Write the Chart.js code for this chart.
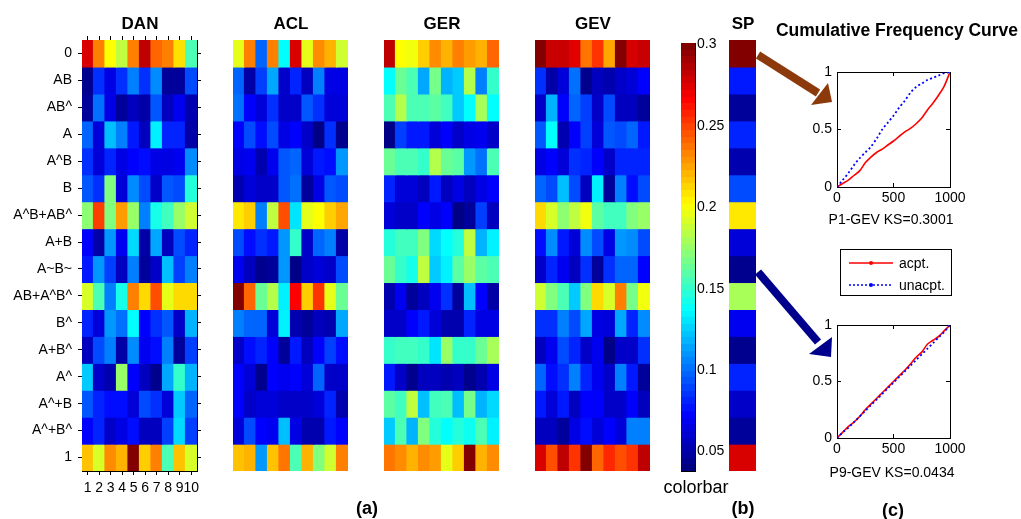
<!DOCTYPE html>
<html><head><meta charset="utf-8">
<script src="https://cdn.jsdelivr.net/npm/chart.js@4.4.1/dist/chart.umd.min.js"></script>
<style>
html,body{margin:0;padding:0;background:#fff;}
#wrap{position:relative;width:1021px;height:519px;overflow:hidden;font-family:'Liberation Sans',Arial,sans-serif;color:#000;background:#fff;}
#wrap canvas{position:absolute;left:0;top:0;}
.t{position:absolute;transform:translate(-50%,-50%);white-space:nowrap;line-height:1;}
.b{font-weight:bold;}
#legend{position:absolute;left:840px;top:249px;width:112px;height:47px;box-sizing:border-box;border:1px solid #000;background:#fff;}
#legend span{position:absolute;left:58px;font-size:14px;line-height:1;transform:translateY(-50%);}
</style></head><body>
<div id="wrap">
<canvas id="cDAN" width="1021" height="519"></canvas>
<canvas id="cACL" width="1021" height="519"></canvas>
<canvas id="cGER" width="1021" height="519"></canvas>
<canvas id="cGEV" width="1021" height="519"></canvas>
<canvas id="cBar" width="1021" height="519"></canvas>
<canvas id="cSP" width="1021" height="519"></canvas>
<canvas id="cL1" width="1021" height="519"></canvas>
<canvas id="cL2" width="1021" height="519"></canvas>
<svg width="1021" height="519" style="position:absolute;left:0;top:0;">
  <line x1="758" y1="55" x2="818" y2="93" stroke="#8c3a0c" stroke-width="8"/>
  <polygon points="832,102 811,105 828,83" fill="#8c3a0c"/>
  <line x1="758" y1="272" x2="818" y2="342" stroke="#00008c" stroke-width="8"/>
  <polygon points="831,357 809,354 832,337" fill="#00008c"/>
</svg>
<div class="t b" style="left:140px;top:23px;font-size:17px;">DAN</div>
<div class="t b" style="left:291px;top:23px;font-size:17px;">ACL</div>
<div class="t b" style="left:442px;top:23px;font-size:17px;">GER</div>
<div class="t b" style="left:593px;top:23px;font-size:17px;">GEV</div>
<div class="t b" style="left:743px;top:23px;font-size:17px;">SP</div>
<div class="t b" style="left:897px;top:31px;font-size:17.5px;">Cumulative Frequency Curve</div>
<div class="t" style="left:891px;top:219px;font-size:14px;">P1-GEV KS=0.3001</div>
<div class="t" style="left:892px;top:472px;font-size:14px;">P9-GEV KS=0.0434</div>
<div class="t" style="left:696px;top:487px;font-size:18px;">colorbar</div>
<div class="t b" style="left:367px;top:508px;font-size:18px;">(a)</div>
<div class="t b" style="left:743px;top:508px;font-size:18px;">(b)</div>
<div class="t b" style="left:893px;top:510px;font-size:18px;">(c)</div>
<div id="legend">
  <svg width="110" height="45" style="position:absolute;left:0;top:0;">
    <line x1="8" y1="13" x2="52" y2="13" stroke="#f00" stroke-width="1.5"/>
    <circle cx="30" cy="13" r="2" fill="#f00"/>
    <line x1="8" y1="35" x2="52" y2="35" stroke="#00f" stroke-width="1.5" stroke-dasharray="2,2"/>
    <circle cx="30" cy="35" r="2" fill="#00f"/>
  </svg>
  <span style="top:13px;">acpt.</span>
  <span style="top:35px;">unacpt.</span>
</div>
</div>
<script>
// ---------- data ----------
const rowNames = ['0','AB','AB^','A','A^B','B','A^B+AB^','A+B','A~B~','AB+A^B^','B^','A+B^','A^','A^+B','A^+B^','1'];
const colLabels = ['1','2','3','4','5','6','7','8','9','10'];

const danValues = [
[0.278,0.235,0.202,0.186,0.235,0.285,0.242,0.235,0.210,0.156],
[0.042,0.083,0.064,0.083,0.104,0.083,0.107,0.045,0.045,0.090],
[0.045,0.100,0.064,0.045,0.054,0.048,0.093,0.054,0.067,0.050],
[0.097,0.061,0.120,0.104,0.077,0.054,0.133,0.080,0.080,0.048],
[0.083,0.061,0.080,0.064,0.071,0.074,0.064,0.064,0.067,0.107],
[0.093,0.083,0.170,0.061,0.107,0.090,0.057,0.093,0.090,0.146],
[0.173,0.252,0.170,0.228,0.176,0.104,0.142,0.153,0.176,0.190],
[0.071,0.048,0.110,0.067,0.127,0.048,0.114,0.054,0.090,0.080],
[0.077,0.110,0.087,0.054,0.104,0.045,0.057,0.120,0.087,0.104],
[0.192,0.156,0.104,0.142,0.235,0.212,0.248,0.196,0.212,0.212],
[0.080,0.061,0.110,0.100,0.137,0.071,0.083,0.093,0.057,0.117],
[0.054,0.090,0.104,0.048,0.107,0.067,0.074,0.104,0.045,0.087],
[0.123,0.057,0.050,0.176,0.071,0.054,0.042,0.114,0.150,0.117],
[0.093,0.080,0.074,0.074,0.061,0.090,0.083,0.061,0.123,0.097],
[0.071,0.080,0.057,0.064,0.074,0.054,0.054,0.087,0.127,0.087],
[0.218,0.192,0.232,0.222,0.300,0.215,0.235,0.156,0.218,0.192]];

const aclValues = [
[0.196,0.235,0.097,0.235,0.137,0.278,0.196,0.232,0.222,0.190],
[0.097,0.048,0.087,0.114,0.057,0.080,0.054,0.104,0.064,0.064],
[0.100,0.071,0.061,0.083,0.057,0.057,0.093,0.083,0.061,0.061],
[0.071,0.090,0.074,0.090,0.064,0.071,0.057,0.040,0.083,0.042],
[0.064,0.067,0.050,0.067,0.093,0.097,0.061,0.077,0.074,0.110],
[0.050,0.061,0.057,0.057,0.093,0.100,0.045,0.064,0.093,0.090],
[0.208,0.215,0.104,0.186,0.248,0.130,0.196,0.202,0.215,0.225],
[0.090,0.074,0.083,0.077,0.110,0.150,0.057,0.097,0.104,0.048],
[0.067,0.054,0.042,0.045,0.110,0.040,0.057,0.061,0.057,0.090],
[0.300,0.242,0.164,0.183,0.133,0.268,0.215,0.255,0.196,0.164],
[0.104,0.097,0.097,0.061,0.133,0.050,0.045,0.054,0.050,0.114],
[0.057,0.074,0.080,0.071,0.045,0.077,0.054,0.071,0.087,0.074],
[0.071,0.061,0.042,0.071,0.067,0.071,0.061,0.097,0.057,0.057],
[0.071,0.057,0.061,0.061,0.057,0.057,0.057,0.061,0.080,0.050],
[0.061,0.090,0.071,0.067,0.120,0.064,0.050,0.050,0.077,0.071],
[0.218,0.222,0.110,0.218,0.238,0.156,0.222,0.170,0.190,0.235]];

const gerValues = [
[0.285,0.202,0.199,0.215,0.232,0.222,0.235,0.228,0.222,0.242],
[0.137,0.164,0.156,0.114,0.167,0.117,0.123,0.183,0.104,0.150],
[0.156,0.183,0.156,0.156,0.160,0.153,0.123,0.137,0.180,0.137],
[0.040,0.087,0.077,0.077,0.061,0.071,0.057,0.064,0.067,0.057],
[0.164,0.156,0.156,0.150,0.183,0.164,0.160,0.110,0.100,0.156],
[0.080,0.061,0.061,0.054,0.077,0.054,0.064,0.054,0.064,0.071],
[0.061,0.057,0.057,0.071,0.064,0.071,0.040,0.045,0.087,0.054],
[0.146,0.153,0.153,0.170,0.127,0.137,0.146,0.186,0.117,0.133],
[0.164,0.150,0.142,0.186,0.123,0.133,0.160,0.176,0.160,0.156],
[0.050,0.067,0.045,0.054,0.067,0.083,0.045,0.120,0.071,0.048],
[0.057,0.057,0.071,0.077,0.061,0.050,0.050,0.080,0.064,0.064],
[0.150,0.153,0.153,0.150,0.130,0.176,0.150,0.150,0.164,0.180],
[0.077,0.057,0.042,0.054,0.054,0.050,0.054,0.042,0.050,0.064],
[0.160,0.153,0.186,0.120,0.153,0.156,0.120,0.167,0.117,0.127],
[0.123,0.156,0.117,0.170,0.146,0.137,0.146,0.140,0.156,0.133],
[0.238,0.232,0.222,0.232,0.228,0.196,0.215,0.300,0.222,0.232]];

const gevValues = [
[0.300,0.282,0.282,0.276,0.238,0.255,0.225,0.300,0.279,0.282],
[0.083,0.048,0.061,0.100,0.042,0.054,0.050,0.057,0.061,0.071],
[0.057,0.117,0.071,0.097,0.087,0.057,0.090,0.054,0.054,0.045],
[0.093,0.137,0.050,0.071,0.087,0.061,0.093,0.090,0.097,0.077],
[0.064,0.071,0.061,0.083,0.080,0.071,0.057,0.080,0.080,0.080],
[0.097,0.090,0.120,0.090,0.054,0.133,0.045,0.104,0.074,0.090],
[0.212,0.192,0.173,0.186,0.199,0.160,0.153,0.153,0.170,0.176],
[0.074,0.107,0.077,0.061,0.107,0.090,0.064,0.110,0.107,0.090],
[0.057,0.080,0.067,0.054,0.083,0.045,0.083,0.097,0.097,0.071],
[0.190,0.170,0.156,0.123,0.170,0.212,0.192,0.235,0.167,0.199],
[0.083,0.083,0.104,0.090,0.114,0.064,0.061,0.114,0.080,0.107],
[0.054,0.067,0.090,0.080,0.057,0.067,0.040,0.057,0.057,0.083],
[0.097,0.074,0.083,0.104,0.080,0.067,0.057,0.104,0.077,0.045],
[0.077,0.061,0.077,0.054,0.071,0.071,0.057,0.057,0.071,0.054],
[0.054,0.054,0.045,0.064,0.074,0.061,0.071,0.061,0.104,0.104],
[0.278,0.248,0.285,0.255,0.300,0.242,0.258,0.248,0.255,0.285]];

const spValues = [0.300,0.077,0.045,0.080,0.050,0.090,0.208,0.061,0.042,0.180,0.067,0.042,0.080,0.057,0.045,0.278];

const cbTicks = [0.05,0.1,0.15,0.2,0.25,0.3];
const cbTickLabels = ['0.05','0.1','0.15','0.2','0.25','0.3'];
const CMIN = 0.038, CMAX = 0.301;

const cdfX = [0,50,100,150,200,250,300,350,400,450,500,550,600,650,700,750,800,850,900,950,1000];
const p1Acpt   = [0,0.03,0.06,0.10,0.14,0.21,0.26,0.30,0.33,0.365,0.40,0.44,0.48,0.51,0.55,0.60,0.67,0.73,0.80,0.88,1];
const p1Unacpt = [0,0.06,0.12,0.19,0.25,0.30,0.35,0.42,0.50,0.56,0.62,0.69,0.75,0.82,0.87,0.90,0.93,0.95,0.97,0.99,1];
const p9Acpt   = [0,0.05,0.10,0.14,0.19,0.25,0.30,0.35,0.40,0.45,0.50,0.55,0.60,0.655,0.715,0.76,0.83,0.865,0.90,0.95,1];
const p9Unacpt = [0,0.05,0.09,0.14,0.19,0.24,0.29,0.34,0.39,0.44,0.49,0.54,0.59,0.64,0.69,0.74,0.79,0.84,0.89,0.94,1];
const xTicks = [0,500,1000], xTickLabels = ['0','500','1000'];
const yTicks = [0,0.5,1], yTickLabels = ['0','0.5','1'];

// ---------- helpers ----------
const W = 1021, H = 519;
Chart.defaults.font.family = "'Liberation Sans', Arial, sans-serif";
Chart.defaults.font.size = 14;
Chart.defaults.color = '#000';

function clamp(x){return Math.max(0,Math.min(1,x));}
function jetT(t){
  const r=clamp(1.5-Math.abs(4*t-3)), g=clamp(1.5-Math.abs(4*t-2)), b=clamp(1.5-Math.abs(4*t-1));
  return 'rgb('+Math.round(r*255)+','+Math.round(g*255)+','+Math.round(b*255)+')';
}
function jet(v){ return jetT(clamp((v-CMIN)/(CMAX-CMIN))); }
function pad(box){ return {left:box.l, top:box.t, right:W-box.r, bottom:H-box.b}; }
// axis boxes take exactly the space around the plot area
const fixW = n => s => { s.width = n; };
const fixH = n => s => { s.height = n; };
const blackBorder = {display:true, color:'#000', width:1};
const baseOpts = {responsive:false, animation:false, devicePixelRatio:1, events:[],
  plugins:{legend:{display:false}, tooltip:{enabled:false}, title:{display:false}}};
const noPad = {padding:0};

function heatChart(id, values, labels, box, withAxes){
  const datasets = rowNames.map((name,i)=>({
    label:name,
    data: labels.map(()=>1),
    backgroundColor: values[i].map(jet),
    borderWidth:0, barPercentage:1, categoryPercentage:1, inflateAmount:0.6
  }));
  const rowTicks = s => { s.ticks = rowNames.map((_,i)=>({value:i+0.5})); };
  let scales, layout;
  if (withAxes){
    const grid = {display:true, offset:false, drawOnChartArea:false, tickLength:4, color:'#000', lineWidth:1};
    scales = {
      x:{stacked:true, position:'bottom', offset:true, grid:grid, border:blackBorder,
         ticks:{autoSkip:false, maxRotation:0, minRotation:0, padding:5, font:{size:14}}, afterFit:fixH(H-box.b)},
      x2:{type:'category', position:'top', offset:true, grid:grid, border:blackBorder,
         ticks:{display:false}, afterFit:fixH(box.t)},
      y:{stacked:true, position:'left', min:0, max:16, reverse:true, afterBuildTicks:rowTicks,
         grid:{display:true, drawOnChartArea:false, tickLength:4, color:'#000'}, border:blackBorder,
         ticks:{autoSkip:false, padding:6, font:{size:14}, callback:(v,i)=>rowNames[i]}, afterFit:fixW(box.l)},
      y2:{type:'linear', position:'right', min:0, max:16, reverse:true, afterBuildTicks:rowTicks,
         grid:{display:true, drawOnChartArea:false, tickLength:4, color:'#000'}, border:blackBorder,
         ticks:{display:false}, afterFit:fixW(W-box.r)}
    };
    layout = noPad;
  } else {
    scales = {
      x:{stacked:true, display:false, offset:true},
      y:{stacked:true, display:false, min:0, max:16, reverse:true}
    };
    layout = {padding:pad(box)};
  }
  return new Chart(document.getElementById(id), {
    type:'bar',
    data:{labels:labels, datasets:datasets},
    options:Object.assign({}, baseOpts, {layout:layout, scales:scales})
  });
}

heatChart('cDAN', danValues, colLabels, {l:82,r:197,t:40,b:471}, true);
heatChart('cACL', aclValues, colLabels, {l:233,r:348,t:40,b:471}, false);
heatChart('cGER', gerValues, colLabels, {l:384,r:499,t:40,b:471}, false);
heatChart('cGEV', gevValues, colLabels, {l:535,r:650,t:40,b:471}, false);
heatChart('cSP', spValues.map(v=>[v]), ['SP'], {l:729,r:756,t:40,b:471}, false);

// colorbar
(function(){
  const box = {l:681,r:695,t:43,b:471};
  const cbT = s => { s.ticks = cbTicks.map(v=>({value:v})); };
  const gridIn = {display:true, drawOnChartArea:false, tickLength:-4, color:'#000'};
  new Chart(document.getElementById('cBar'), {
    type:'bar',
    data:{labels:['cb'], datasets:[{data:[[CMIN,CMAX]], borderWidth:0, barPercentage:1, categoryPercentage:1,
      backgroundColor:(ctx)=>{
        const ch = ctx.chart, a = ch.chartArea;
        if(!a) return '#00f';
        const g = ch.ctx.createLinearGradient(0,a.bottom,0,a.top);
        for(let k=0;k<64;k++){ const c=jetT(k/63); g.addColorStop(k/64,c); g.addColorStop(Math.min(1,(k+1)/64-0.0001),c); }
        return g;
      }}]},
    options:Object.assign({}, baseOpts, {layout:noPad, scales:{
      x:{position:'bottom', grid:{display:true, drawOnChartArea:false, drawTicks:false}, border:blackBorder, ticks:{display:false}, afterFit:fixH(H-box.b)},
      x2:{type:'category', position:'top', grid:{display:true, drawOnChartArea:false, drawTicks:false}, border:blackBorder, ticks:{display:false}, afterFit:fixH(box.t)},
      y:{position:'right', min:CMIN, max:CMAX, afterBuildTicks:cbT, grid:gridIn, border:blackBorder,
         ticks:{padding:6, font:{size:14}, callback:(v,i)=>cbTickLabels[i]}, afterFit:fixW(W-box.r)},
      y2:{type:'linear', position:'left', min:CMIN, max:CMAX, afterBuildTicks:cbT, grid:gridIn, border:blackBorder,
         ticks:{display:false}, afterFit:fixW(box.l)}
    }})
  });
})();

// cumulative frequency curves
function cdfChart(id, acpt, unacpt, box){
  const xT = s => { s.ticks = xTicks.map(v=>({value:v})); };
  const yT = s => { s.ticks = yTicks.map(v=>({value:v})); };
  const gridIn = {display:true, drawOnChartArea:false, tickLength:-4, color:'#000'};
  return new Chart(document.getElementById(id), {
    type:'line',
    data:{datasets:[
      {label:'acpt.', data:cdfX.map((x,i)=>({x:x,y:acpt[i]})), borderColor:'#ff0000', borderWidth:1.6, pointRadius:0, tension:0.3, order:1},
      {label:'unacpt.', data:cdfX.map((x,i)=>({x:x,y:unacpt[i]})), borderColor:'#0000ff', borderWidth:1.8, borderDash:[2,2.5], pointRadius:0, tension:0.3, order:0}
    ]},
    options:Object.assign({}, baseOpts, {layout:noPad, scales:{
      x:{type:'linear', position:'bottom', min:0, max:1000, afterBuildTicks:xT, grid:gridIn, border:blackBorder,
         ticks:{padding:7, font:{size:14}, maxRotation:0, callback:(v,i)=>xTickLabels[i]}, afterFit:fixH(H-box.b)},
      x2:{type:'linear', position:'top', min:0, max:1000, afterBuildTicks:xT, grid:gridIn, border:blackBorder,
         ticks:{display:false}, afterFit:fixH(box.t)},
      y:{type:'linear', position:'left', min:0, max:1, afterBuildTicks:yT, grid:gridIn, border:blackBorder,
         ticks:{padding:9, font:{size:14}, callback:(v,i)=>yTickLabels[i]}, afterFit:fixW(box.l)},
      y2:{type:'linear', position:'right', min:0, max:1, afterBuildTicks:yT, grid:gridIn, border:blackBorder,
         ticks:{display:false}, afterFit:fixW(W-box.r)}
    }})
  });
}
cdfChart('cL1', p1Acpt, p1Unacpt, {l:837,r:950,t:72,b:187});
cdfChart('cL2', p9Acpt, p9Unacpt, {l:837,r:950,t:325,b:438});
</script>
</body></html>
